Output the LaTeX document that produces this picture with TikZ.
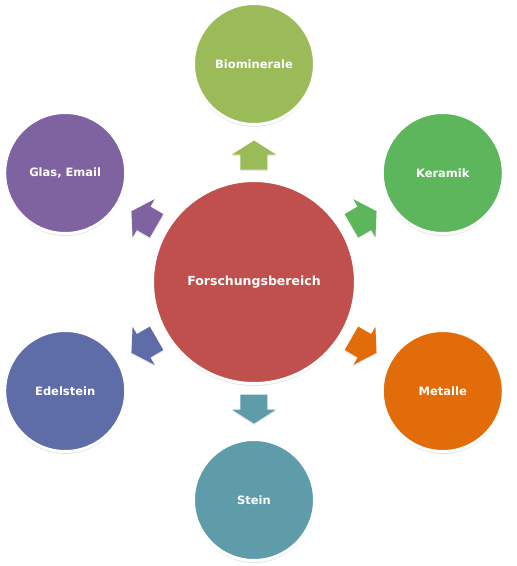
\documentclass[tikz,border=0pt]{standalone}
\usepackage{fontspec}
\setmainfont{DejaVu Sans}
\usetikzlibrary{shadows}
\definecolor{cred}{HTML}{C0504D}
\definecolor{cbio}{HTML}{9BBB59}
\definecolor{cker}{HTML}{5DB55C}
\definecolor{cmet}{HTML}{E36C0A}
\definecolor{cste}{HTML}{5E9CAA}
\definecolor{cede}{HTML}{5E6CA8}
\definecolor{cgla}{HTML}{7F62A0}
\tikzset{
  x=1pt,y=1pt,
  bubble/.style={circle, draw=white, line width=3pt, text=white,
    font=\bfseries\fontsize{11.5}{13}\selectfont, inner sep=0pt,
    drop shadow={opacity=0.2, shadow xshift=0pt, shadow yshift=-2.5pt}},
  outer/.style={bubble, minimum size=121pt},
  center/.style={bubble, minimum size=203pt, font=\bfseries\fontsize{12.5}{14}\selectfont},
  blockarrow/.style={drop shadow={opacity=0.18, shadow xshift=0pt, shadow yshift=-1.5pt}}
}
\begin{document}
\begin{tikzpicture}
\useasboundingbox (-254,-284) rectangle (263,282);
\node[center, fill=cred] (c) at (0,0) {Forschungsbereich};
\node[outer, fill=cbio] (bio) at (90:218) {Biominerale};
\node[outer, fill=cker] (ker) at (30:218) {Keramik};
\node[outer, fill=cmet] (met) at (-30:218) {Metalle};
\node[outer, fill=cste] (ste) at (-90:218) {Stein};
\node[outer, fill=cede] (ede) at (-150:218) {Edelstein};
\node[outer, fill=cgla] (gla) at (150:218) {Glas, Email};
\foreach \a/\col in {90/cbio,30/cker,-30/cmet,-90/cste,-150/cede,150/cgla}{
  \fill[\col, blockarrow, rotate=\a]
    (112.5,-13.5) -- (127.5,-13.5) -- (127.5,-22) -- (141.5,0) --
    (127.5,22) -- (127.5,13.5) -- (112.5,13.5) -- cycle;
}
\end{tikzpicture}
\end{document}
